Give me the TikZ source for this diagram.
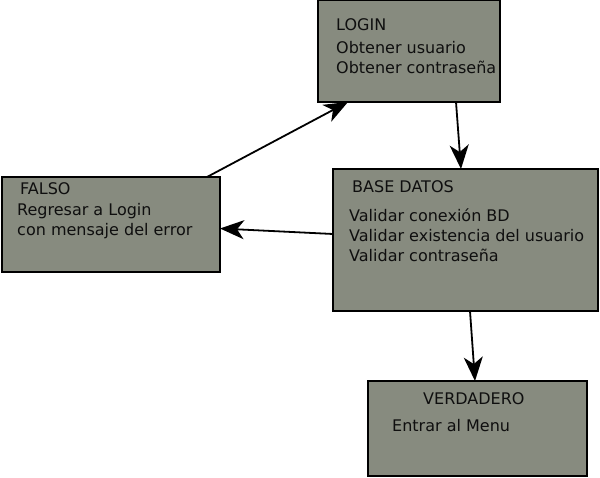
\documentclass[tikz,border=0pt]{standalone}
\usepackage{fontspec}
\setmainfont{DejaVu Sans}
\usetikzlibrary{arrows.meta,calc}
\definecolor{boxfill}{RGB}{135,139,127}
\definecolor{txtcol}{RGB}{15,15,15}
\tikzset{
  box/.style={draw=black, fill=boxfill, line width=2pt, inner sep=0pt, outer sep=0pt, rectangle},
  txt/.style={anchor=base west, inner sep=0pt, text=txtcol, font=\fontsize{16}{20}\selectfont},
  arr/.style={line width=1.8pt, -{Stealth[length=24pt,width=19pt,inset=7pt]}}
}
\begin{document}
\begin{tikzpicture}[x=1pt,y=-1pt]
\useasboundingbox (0,0) rectangle (600,478);
\node[box, minimum width=182pt, minimum height=102pt] (login) at (409,51) {};
\node[box, minimum width=218pt, minimum height=95pt] (falso) at (111,224.5) {};
\node[box, minimum width=265pt, minimum height=142pt] (base) at (465.5,240) {};
\node[box, minimum width=219pt, minimum height=95pt] (verd) at (477.5,428.5) {};

\node[txt] (l1) at (336,31) {LOGIN};
\node[txt] (l2) at (336,54) {Obtener usuario};
\node[txt] (l3) at (336,74) {Obtener contraseña};

\node[txt] (f1) at (20,195) {FALSO};
\node[txt] (f2) at (17,216) {Regresar a Login};
\node[txt] (f3) at (17,236) {con mensaje del error};

\node[txt] (b1) at (352,193) {BASE DATOS};
\node[txt] (b2) at (349,222) {Validar conexión BD};
\node[txt] (b3) at (349,242) {Validar existencia del usuario};
\node[txt] (b4) at (349,262) {Validar contraseña};

\node[txt] (v1) at (423,404) {VERDADERO};
\node[txt] (v2) at (392,431) {Entrar al Menu};

\draw[arr] ($(login.south west)+(138,0)$) -- ($(base.north west)+(128,0)$);
\draw[arr] ($(falso.north west)+(205,0)$) -- ($(login.south west)+(30,0)$);
\draw[arr] ($(base.west)+(0,-6)$) -- ($(falso.east)+(0,4)$);
\draw[arr] ($(base.south west)+(137,0)$) -- ($(verd.north west)+(107,0)$);
\end{tikzpicture}
\end{document}
